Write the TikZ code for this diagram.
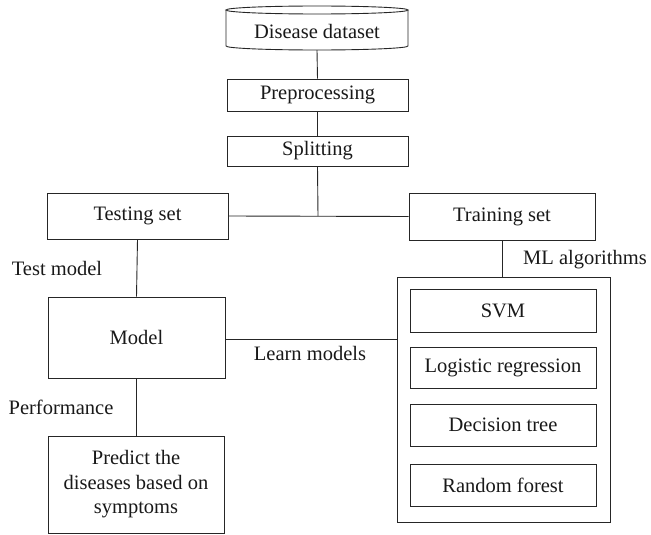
\documentclass[tikz,border=0pt]{standalone}
\usepackage{fontspec}
\newfontfamily\diagfont{Liberation Serif}
\begin{document}
\begin{tikzpicture}[x=1pt,y=1pt,
  every node/.style={font=\diagfont\fontsize{20.5}{24.5}\selectfont, text=black!90},
  box/.style={draw=black!85, line width=0.9pt, rectangle, inner sep=0pt, align=center},
  conn/.style={draw=black!85, line width=0.9pt},
  lbl/.style={inner sep=0pt}]
\useasboundingbox (0,0) rectangle (651,-535);
% cylinder
\node[inner sep=0pt, minimum width=182, minimum height=44] (ds) at (317,-28) {};
\draw[conn] (226,-10) -- (226,-46) arc[start angle=180, end angle=360, x radius=91, y radius=4] -- (408,-10);
\draw[conn] (317,-10) ellipse[x radius=91, y radius=4];
\node[lbl] at (317,-31) {Disease dataset};
\node[box, minimum width=181, minimum height=32] (pre) at (317.5,-95) {Preprocessing};
\node[box, minimum width=181, minimum height=30] (spl) at (317.5,-151) {Splitting};
\coordinate (J) at (318,-216);
\node[box, minimum width=181, minimum height=46] (test) at (137.5,-216) {Testing set};
\node[box, minimum width=186, minimum height=47] (train) at (502,-216.5) {Training set};
\node[box, minimum width=177, minimum height=81] (model) at (136.5,-337.5) {Model};
\node[box, minimum width=176, minimum height=97] (pred) at (136,-484.5) {Predict the\\diseases based on\\symptoms};
\node[box, minimum width=213, minimum height=245] (big) at (503.5,-399.5) {};
\node[box, minimum width=186, minimum height=43] (svm) at (503,-310.5) {SVM};
\node[box, minimum width=186, minimum height=41] (lr) at (503,-367.5) {Logistic regression};
\node[box, minimum width=186, minimum height=42] (dt) at (503,-425) {Decision tree};
\node[box, minimum width=186, minimum height=42] (rf) at (503,-485) {Random forest};
% connectors
\draw[conn] (ds.south) -- (pre.north);
\draw[conn] (pre.south) -- (spl.north);
\draw[conn] (spl.south) -- (J);
\draw[conn] (test.east) -- (train.west);
\draw[conn] (test.south) -- (model.north);
\draw[conn] ([yshift=-1.5pt]model.east) -- ([yshift=-1.5pt]model.east -| big.west);
\draw[conn] (model.south) -- (model.south |- pred.north);
\draw[conn] (train.south) -- (train.south |- big.north);
% labels
\node[lbl] (l1) at (57,-268) {Test model};
\node[lbl] (l2) at (61,-407) {Performance};
\node[lbl] (l3) at (310,-353) {Learn models};
\node[lbl] (l4) at (585,-260) {ML algorithms};
\end{tikzpicture}
\end{document}
